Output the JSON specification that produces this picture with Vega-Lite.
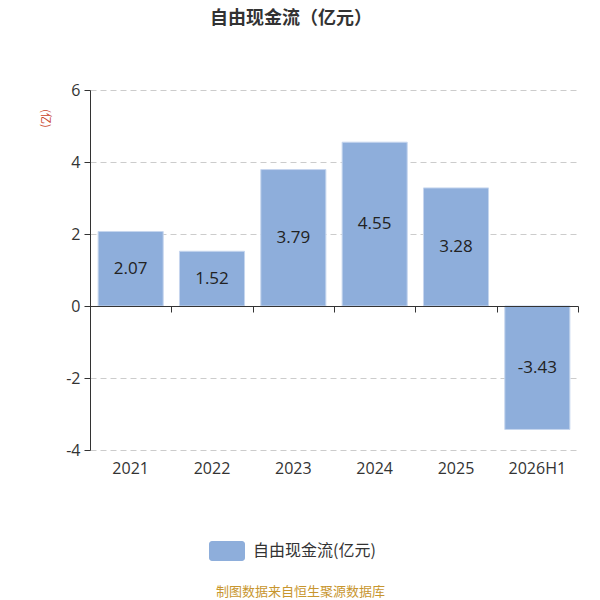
{
  "$schema": "https://vega.github.io/schema/vega-lite/v6.json",
  "width": 488,
  "height": 360,
  "autosize": {"type": "none"},
  "padding": {"left": 90, "top": 90, "right": 22, "bottom": 150},
  "background": "white",
  "config": {"view": {"stroke": null}},
  "title": {
    "text": "自由现金流（亿元）",
    "font": "Noto Sans CJK SC",
    "fontSize": 18,
    "fontWeight": "bold",
    "color": "#333333",
    "anchor": "middle",
    "dx": -43,
    "offset": 54
  },
  "data": {
    "values": [
      {"year": "2021", "value": 2.07},
      {"year": "2022", "value": 1.52},
      {"year": "2023", "value": 3.79},
      {"year": "2024", "value": 4.55},
      {"year": "2025", "value": 3.28},
      {"year": "2026H1", "value": -3.43}
    ]
  },
  "layer": [
    {
      "mark": {"type": "bar", "stroke": "#c6d6ee", "strokeWidth": 1},
      "encoding": {
        "x": {
          "field": "year",
          "type": "nominal",
          "sort": null,
          "scale": {"paddingInner": 0.2, "paddingOuter": 0.1},
          "axis": {
            "title": "制图数据来自恒生聚源数据库",
            "titleColor": "#c8962e",
            "titleFont": "Noto Sans CJK SC",
            "titleFontSize": 13,
            "titleFontWeight": "normal",
            "titleX": 210,
            "titleY": 141,
            "titleAlign": "center",
            "titleBaseline": "middle",
            "labelAngle": 0,
            "labelFont": "Open Sans",
            "labelFontSize": 16,
            "labelColor": "#333333",
            "labelPadding": 10,
            "domain": false,
            "ticks": false,
            "tickSize": 0,
            "grid": false
          }
        },
        "y": {
          "field": "value",
          "type": "quantitative",
          "scale": {"domain": [-4, 6], "nice": false},
          "axis": {
            "values": [-4, -2, 0, 2, 4, 6],
            "labelExpr": "replace(datum.label, '\u2212', '-')",
            "title": "(亿)",
            "titleAngle": 90,
            "titleX": -46,
            "titleY": 28,
            "titleAlign": "center",
            "titleBaseline": "middle",
            "titleColor": "#c9452a",
            "titleFont": "Noto Sans CJK SC",
            "titleFontSize": 11,
            "titleFontWeight": "normal",
            "labelFont": "Open Sans",
            "labelFontSize": 16,
            "labelColor": "#333333",
            "labelPadding": 4,
            "domainColor": "#333333",
            "tickColor": "#333333",
            "tickSize": 6,
            "grid": true,
            "gridColor": "#cccccc",
            "gridDash": [6, 4]
          }
        },
        "color": {
          "datum": "自由现金流(亿元)",
          "type": "nominal",
          "scale": {"range": ["#8eaedb"]},
          "legend": {
            "orient": "none",
            "legendX": 119,
            "legendY": 443,
            "title": null,
            "padding": 0,
            "symbolType": "M-0.8333,-0.5556H0.8333A0.1667,0.1667 0 0 1 1,-0.3889V0.3889A0.1667,0.1667 0 0 1 0.8333,0.5556H-0.8333A0.1667,0.1667 0 0 1 -1,0.3889V-0.3889A0.1667,0.1667 0 0 1 -0.8333,-0.5556Z",
            "symbolSize": 1296,
            "symbolStrokeWidth": 0,
            "symbolOpacity": 1,
            "labelFont": "Noto Sans CJK SC",
            "labelFontSize": 16,
            "labelColor": "#333333",
            "labelOffset": 8
          }
        }
      }
    },
    {
      "mark": {"type": "text", "font": "Open Sans", "fontSize": 17, "color": "#222222", "baseline": "middle"},
      "encoding": {
        "x": {
          "field": "year",
          "type": "nominal",
          "sort": null,
          "scale": {"paddingInner": 0, "paddingOuter": 0},
          "axis": {
            "orient": "bottom",
            "offset": -144,
            "title": null,
            "labels": false,
            "domain": true,
            "domainColor": "#333333",
            "ticks": true,
            "tickBand": "extent",
            "tickSize": 6,
            "tickColor": "#333333",
            "grid": false,
            "zindex": 1
          }
        },
        "y": {
          "field": "value",
          "type": "quantitative",
          "scale": {"domain": [-8, 12], "nice": false, "zero": false},
          "axis": null
        },
        "text": {"field": "value", "type": "nominal"}
      }
    }
  ],
  "resolve": {"scale": {"x": "independent", "y": "independent"}, "axis": {"x": "independent"}}
}
